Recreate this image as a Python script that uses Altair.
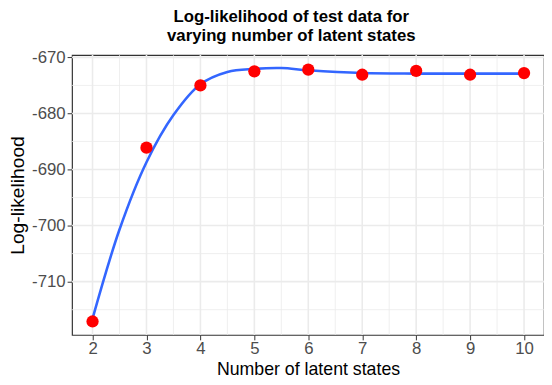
import altair as alt
import pandas as pd

# Observed log-likelihood points
states = [2, 3, 4, 5, 6, 7, 8, 9, 10]
loglik = [-717.1, -686.1, -675.0, -672.5, -672.2, -673.1, -672.4, -673.1, -672.8]

# Smoothed (loess) curve
smooth_x = [2, 2.5, 3, 3.5, 4, 4.5, 5, 5.5, 6, 7, 8, 9, 10]
smooth_y = [-716.6, -700.7, -688.7, -680.3, -674.8, -672.6, -672.05, -671.9,
            -672.3, -672.8, -672.9, -672.9, -672.9]

# Tick / grid values
x_major = [2, 3, 4, 5, 6, 7, 8, 9, 10]
x_minor = [2.5, 3.5, 4.5, 5.5, 6.5, 7.5, 8.5, 9.5]
y_major = [-710, -700, -690, -680, -670]
y_minor = [-715, -705, -695, -685, -675]

X_DOMAIN = [1.62, 10.37]
Y_DOMAIN = [-719.5, -669.6]
FONT = "Liberation Sans"

pts = pd.DataFrame({"x": states, "y": loglik})
sm = pd.DataFrame({"x": smooth_x, "y": smooth_y})

xs = alt.Scale(domain=X_DOMAIN, nice=False, zero=False)
ys = alt.Scale(domain=Y_DOMAIN, nice=False, zero=False)

xaxis = alt.Axis(title="Number of latent states", values=x_major,
                 grid=False, domain=False, tickSize=5, tickColor="#333333",
                 labelColor="#4D4D4D", labelFontSize=17, labelPadding=1,
                 titleFontSize=18, titleFontWeight="normal", titleColor="black",
                 titlePadding=4, labelFont=FONT, titleFont=FONT)
yaxis = alt.Axis(title="Log-likelihood", values=y_major,
                 labelExpr="toString(datum.value)",
                 grid=False, domain=False, tickSize=5, tickColor="#333333",
                 labelColor="#4D4D4D", labelFontSize=17, labelPadding=2,
                 titleFontSize=19.5, titleFontWeight="normal", titleColor="black",
                 titlePadding=4, labelFont=FONT, titleFont=FONT)

GRID = "#EBEBEB"

xminor = alt.Chart(pd.DataFrame({"x": x_minor})).mark_rule(
    color=GRID, strokeWidth=0.8).encode(x=alt.X("x:Q", scale=xs, axis=xaxis))
yminor = alt.Chart(pd.DataFrame({"y": y_minor})).mark_rule(
    color=GRID, strokeWidth=0.8).encode(y=alt.Y("y:Q", scale=ys, axis=yaxis))
xmajor = alt.Chart(pd.DataFrame({"x": x_major})).mark_rule(
    color=GRID, strokeWidth=1.6).encode(x=alt.X("x:Q", scale=xs, axis=xaxis))
ymajor = alt.Chart(pd.DataFrame({"y": y_major})).mark_rule(
    color=GRID, strokeWidth=1.6).encode(y=alt.Y("y:Q", scale=ys, axis=yaxis))

line = alt.Chart(sm).mark_line(
    color="#3366FF", strokeWidth=2.6, interpolate="catmull-rom").encode(
    x=alt.X("x:Q", scale=xs, axis=xaxis),
    y=alt.Y("y:Q", scale=ys, axis=yaxis),
)

points = alt.Chart(pts).mark_circle(color="#FF0000", opacity=1, size=155).encode(
    x=alt.X("x:Q", scale=xs, axis=xaxis), y=alt.Y("y:Q", scale=ys, axis=yaxis))

chart = alt.layer(xminor, yminor, xmajor, ymajor, line, points).properties(
    width=479, height=284,
    autosize=alt.AutoSizeParams(type="none"),
    padding={"left": 65, "top": 45, "right": 0, "bottom": 48},
    title=alt.TitleParams(
        text=["Log-likelihood of test data for", "varying number of latent states"],
        font=FONT, fontSize=17, fontWeight="bold", color="black",
        anchor="middle", frame="group", dx=-17, offset=4, lineHeight=18.5),
).configure(background="white").configure_view(stroke="#333333", strokeWidth=1.2)

chart.save("out.html", embed_options={"renderer": "svg", "actions": False})
